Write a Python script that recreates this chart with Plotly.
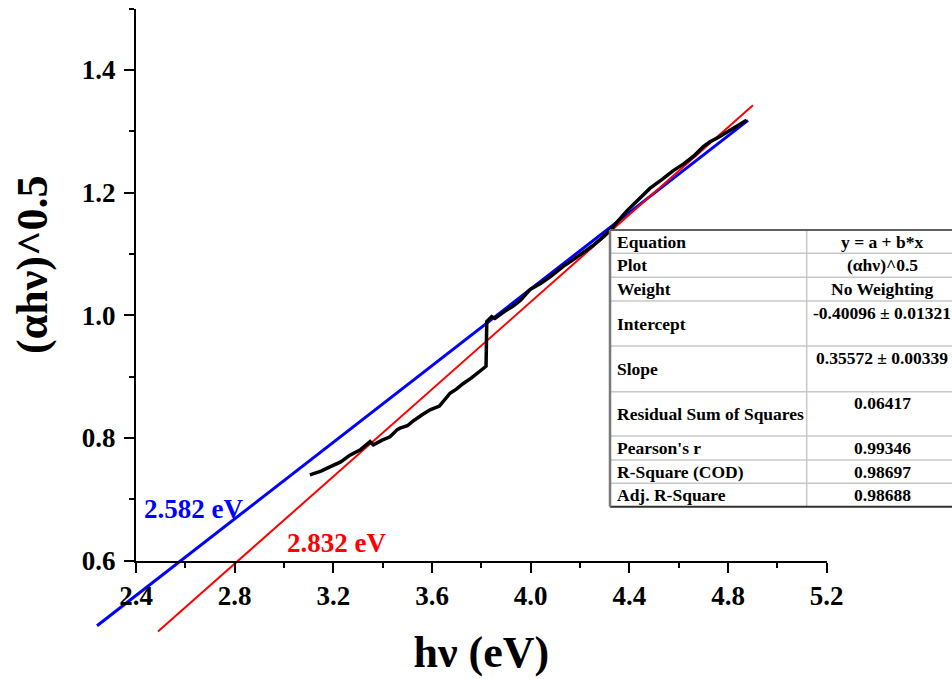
import plotly.graph_objects as go

# ---------------- data ----------------
black_x = [3.105, 3.15, 3.186, 3.23, 3.267, 3.31, 3.349, 3.362, 3.40, 3.430, 3.457, 3.47, 3.50, 3.524,
           3.56, 3.592, 3.63, 3.673, 3.70, 3.727, 3.76, 3.794, 3.81, 3.819, 3.822, 3.835, 3.842, 3.855,
           3.88, 3.90, 3.929, 3.96, 3.997, 4.04, 4.08, 4.132, 4.17, 4.20, 4.25, 4.294, 4.33, 4.348,
           4.389, 4.43, 4.483, 4.53, 4.578, 4.62, 4.659, 4.70, 4.727, 4.76, 4.794, 4.84, 4.875]
black_y = [0.740, 0.746, 0.753, 0.761, 0.772, 0.781, 0.794, 0.789, 0.797, 0.802, 0.813, 0.816, 0.820, 0.828,
           0.838, 0.846, 0.852, 0.873, 0.880, 0.889, 0.898, 0.908, 0.913, 0.917, 0.990, 0.996, 0.998, 0.995,
           1.003, 1.008, 1.015, 1.025, 1.042, 1.052, 1.063, 1.080, 1.090, 1.098, 1.113, 1.128, 1.142, 1.151,
           1.170, 1.186, 1.207, 1.221, 1.236, 1.247, 1.259, 1.275, 1.283, 1.290, 1.298, 1.309, 1.318]

blue_x = [2.242, 4.881]
blue_y = [0.494, 1.318]
red_x = [2.489, 4.901]
red_y = [0.4844, 1.3424]

blue_label = "2.582 eV"
red_label = "2.832 eV"

x_ticks = [2.4, 2.8, 3.2, 3.6, 4.0, 4.4, 4.8, 5.2]
x_minor = [2.6, 3.0, 3.4, 3.8, 4.2, 4.6, 5.0]
y_ticks = [0.6, 0.8, 1.0, 1.2, 1.4]
y_minor = [0.7, 0.9, 1.1, 1.3, 1.5]

table_labels = ["Equation", "Plot", "Weight", "Intercept", "Slope", "Residual Sum of Squares",
                "Pearson's r", "R-Square (COD)", "Adj. R-Square"]
table_values = ["y = a + b*x", "(αhν)^0.5", "No Weighting", "-0.40096 ± 0.01321", "0.35572 ± 0.00339",
                "0.06417", "0.99346", "0.98697", "0.98688"]

# ---------------- layout geometry ----------------
W, H = 952, 679
FONT = "Liberation Serif"
x_full = [1.84868, 5.70789]
y_full = [0.40713, 1.51414]
x_axis_rng = [2.4, 5.2]
y_axis_rng = [0.6, 1.5]


def fx(v):
    return (v - x_full[0]) / (x_full[1] - x_full[0])


def fy(v):
    return (v - y_full[0]) / (y_full[1] - y_full[0])


fig = go.Figure()
fig.add_trace(go.Scatter(x=blue_x, y=blue_y, mode="lines", line=dict(color="#0000FF", width=3),
                         xaxis="x", yaxis="y", hoverinfo="skip"))
fig.add_trace(go.Scatter(x=red_x, y=red_y, mode="lines", line=dict(color="#FF0000", width=2),
                         xaxis="x", yaxis="y", hoverinfo="skip"))
fig.add_trace(go.Scatter(x=black_x, y=black_y, mode="lines", line=dict(color="black", width=3.5),
                         xaxis="x", yaxis="y"))
# invisible trace to host the visible axes
fig.add_trace(go.Scatter(x=[None], y=[None], xaxis="x2", yaxis="y2", mode="lines"))

tickfont = dict(family=FONT, size=27, color="black", weight="bold")

fig.update_layout(
    width=W, height=H,
    margin=dict(l=0, r=0, t=0, b=0, pad=0, autoexpand=False),
    paper_bgcolor="white", plot_bgcolor="rgba(0,0,0,0)",
    showlegend=False,
    xaxis=dict(domain=[0, 1], range=x_full, visible=False, fixedrange=True, automargin=False),
    yaxis=dict(domain=[0, 1], range=y_full, visible=False, fixedrange=True, automargin=False),
    xaxis2=dict(domain=[fx(x_axis_rng[0]), fx(x_axis_rng[1])], range=x_axis_rng, anchor="y2",
                automargin=False,
                showline=True, linecolor="black", linewidth=2, showgrid=False, zeroline=False,
                ticks="outside", ticklen=10, tickwidth=2, tickcolor="black",
                tickmode="array", tickvals=x_ticks, tickformat=".1f", tickfont=tickfont,
                ticklabelstandoff=0,
                minor=dict(tickmode="array", tickvals=x_minor, ticks="outside", ticklen=5,
                           tickwidth=2, tickcolor="black"),
                title=dict(text="hν (eV)", font=dict(family=FONT, size=44, color="black", weight="bold"),
                           standoff=26)),
    yaxis2=dict(domain=[fy(y_axis_rng[0]), fy(y_axis_rng[1])], range=y_axis_rng, anchor="x2",
                automargin=False,
                showline=True, linecolor="black", linewidth=2, showgrid=False, zeroline=False,
                ticks="outside", ticklen=10, tickwidth=2, tickcolor="black",
                tickmode="array", tickvals=y_ticks, tickformat=".1f", tickfont=tickfont,
                ticklabelstandoff=3,
                minor=dict(tickmode="array", tickvals=y_minor, ticks="outside", ticklen=5,
                           tickwidth=2, tickcolor="black")),
)

annotations = [
    dict(text="(αhν)^0.5", x=33 / W, y=1 - 265 / H, xref="paper", yref="paper", showarrow=False,
         textangle=-90, xanchor="center", yanchor="middle",
         font=dict(family=FONT, size=44, color="black", weight="bold")),
    dict(text=blue_label, x=2.423, y=0.6835, xref="x", yref="y", showarrow=False,
         xanchor="left", yanchor="middle", font=dict(family=FONT, size=27, color="#0000FF", weight="bold")),
    dict(text=red_label, x=3.004, y=0.629, xref="x", yref="y", showarrow=False,
         xanchor="left", yanchor="middle", font=dict(family=FONT, size=27, color="#FF0000", weight="bold")),
]

# ---------------- fit table ----------------
row_edges = [230, 253.3, 277.3, 301, 346, 391.7, 436, 460, 483.3, 506.7]
tall_rows = {3, 4, 5}
t_left, t_col, t_right = 610, 806.7, 962
shapes = []


def px(v):
    return v / W


def py(v):
    return 1 - v / H


shapes.append(dict(type="rect", xref="paper", yref="paper", x0=px(t_left), x1=px(t_right),
                   y0=py(row_edges[-1]), y1=py(row_edges[0]), fillcolor="white",
                   line=dict(width=0), layer="above"))
for e in row_edges[1:-1]:
    shapes.append(dict(type="line", xref="paper", yref="paper", x0=px(t_left), x1=px(t_right),
                       y0=py(e), y1=py(e), line=dict(color="#c8c8c8", width=1.5), layer="above"))
shapes.append(dict(type="line", xref="paper", yref="paper", x0=px(t_col), x1=px(t_col),
                   y0=py(row_edges[0]), y1=py(row_edges[-1]), line=dict(color="#c8c8c8", width=1.5),
                   layer="above"))
shapes.append(dict(type="line", xref="paper", yref="paper", x0=px(t_left), x1=px(t_right),
                   y0=py(row_edges[0]), y1=py(row_edges[0]), line=dict(color="#606060", width=2),
                   layer="above"))
shapes.append(dict(type="line", xref="paper", yref="paper", x0=px(t_left), x1=px(t_right),
                   y0=py(row_edges[-1]), y1=py(row_edges[-1]), line=dict(color="#303030", width=2),
                   layer="above"))
shapes.append(dict(type="line", xref="paper", yref="paper", x0=px(t_left), x1=px(t_left),
                   y0=py(row_edges[0]), y1=py(row_edges[-1]), line=dict(color="#7a7a7a", width=2.5),
                   layer="above"))

tfont = dict(family=FONT, size=17.5, color="black", weight="bold")
for i, (lab, val) in enumerate(zip(table_labels, table_values)):
    top, bot = row_edges[i], row_edges[i + 1]
    mid = (top + bot) / 2
    annotations.append(dict(text=lab, x=px(615), y=py(mid), xref="paper", yref="paper", showarrow=False,
                            xanchor="left", yanchor="middle", font=tfont))
    vy = top + 11.7 if i in tall_rows else mid
    annotations.append(dict(text=val, x=px(882), y=py(vy), xref="paper", yref="paper", showarrow=False,
                            xanchor="center", yanchor="middle", font=tfont))

fig.update_layout(annotations=annotations, shapes=shapes)
fig.write_html("out.html")
